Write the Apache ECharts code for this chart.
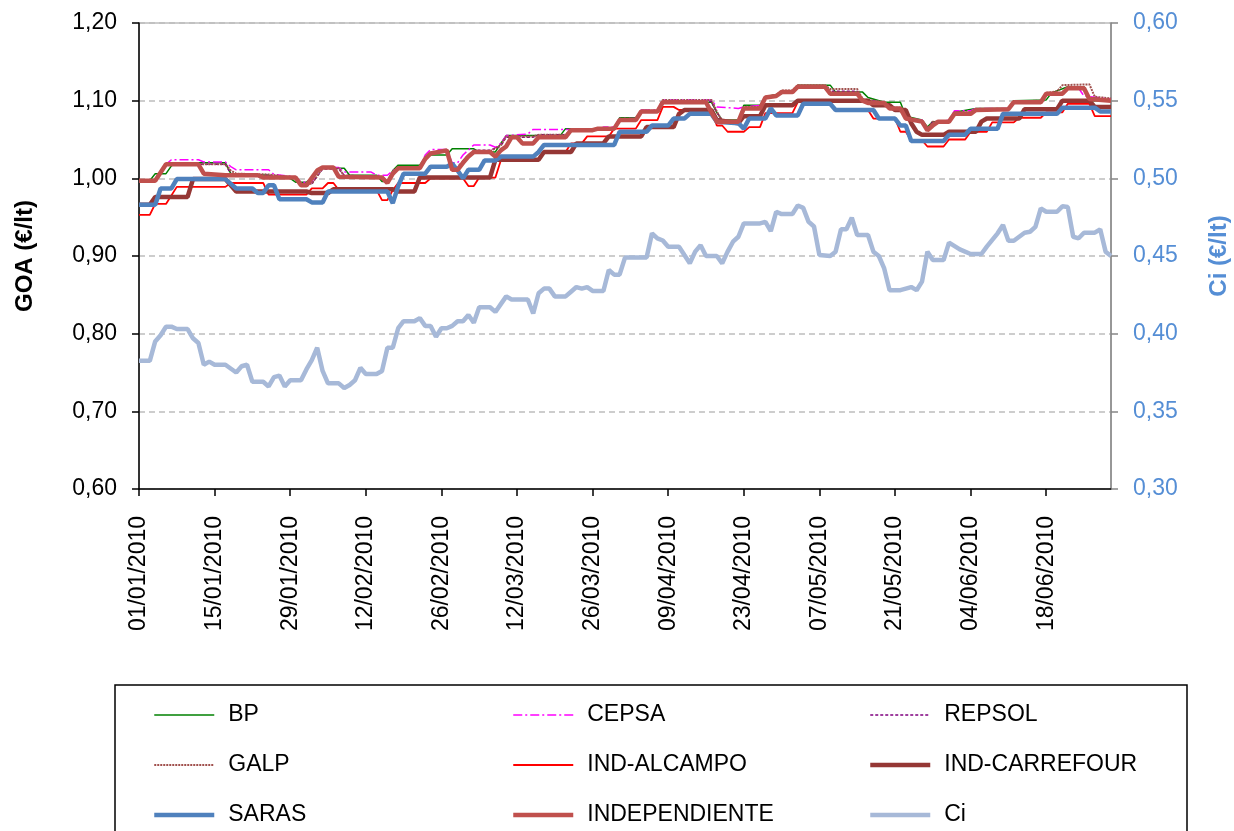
<!DOCTYPE html>
<html>
<head>
<meta charset="utf-8">
<script src="https://cdn.jsdelivr.net/npm/echarts@6/dist/echarts.min.js"></script>
<style>
  html, body { margin: 0; padding: 0; background: #fff; }
  #chart { width: 1234px; height: 831px; }
</style>
</head>
<body>
<div id="chart"></div>
<script>
// x = days since 01/01/2010, y = price in euro per litre
const xTickDays = [0, 14, 28, 42, 56, 70, 84, 98, 112, 126, 140, 154, 168];

const bp = [[0,0.997],[2,0.997],[3,1.006],[5,1.006],[6,1.016],[7,1.020],[16,1.020],[17,1.006],[24,1.004],[25,1.000],[28,1.000],[29,0.995],[31,0.995],[32,1.000],[33,1.008],[34,1.013],[38,1.013],[39,1.004],[44,1.004],[45,0.996],[46,0.996],[47,1.010],[48,1.017],[52,1.017],[53,1.027],[54,1.030],[57,1.030],[58,1.038],[62,1.038],[63,1.034],[66,1.034],[67,1.045],[68,1.055],[78,1.055],[79,1.064],[88,1.064],[89,1.078],[92,1.078],[93,1.087],[96,1.087],[97,1.098],[106,1.098],[107,1.085],[108,1.075],[111,1.075],[112,1.094],[115,1.094],[116,1.105],[121,1.112],[122,1.120],[128,1.120],[129,1.111],[134,1.111],[135,1.104],[138,1.098],[141,1.098],[142,1.080],[145,1.075],[146,1.066],[147,1.073],[150,1.073],[151,1.085],[155,1.090],[161,1.090],[162,1.100],[168,1.101],[169,1.110],[172,1.118],[175,1.118],[176,1.100],[180,1.100]];

const cepsa = [[0,0.997],[3,0.997],[5,1.018],[6,1.024],[11,1.024],[12,1.021],[16,1.021],[17,1.015],[18,1.011],[24,1.011],[25,1.005],[29,1.002],[30,0.995],[32,0.995],[33,1.010],[34,1.014],[37,1.014],[38,1.008],[43,1.008],[44,1.004],[46,1.004],[47,1.010],[48,1.014],[52,1.014],[53,1.030],[54,1.037],[57,1.037],[58,1.020],[59,1.020],[60,1.030],[62,1.043],[65,1.043],[66,1.040],[67,1.045],[68,1.055],[72,1.057],[73,1.063],[85,1.063],[86,1.066],[88,1.066],[89,1.077],[92,1.077],[93,1.088],[96,1.088],[97,1.101],[106,1.101],[107,1.092],[111,1.090],[112,1.092],[115,1.094],[116,1.104],[118,1.106],[119,1.112],[121,1.112],[122,1.118],[127,1.118],[128,1.110],[133,1.110],[134,1.101],[138,1.098],[139,1.090],[141,1.090],[142,1.077],[145,1.075],[146,1.062],[147,1.070],[150,1.075],[151,1.087],[154,1.087],[155,1.090],[161,1.090],[162,1.098],[167,1.100],[168,1.109],[171,1.109],[172,1.116],[174,1.116],[175,1.106],[180,1.102]];

const repsol = [[0,0.997],[3,0.997],[5,1.018],[16,1.018],[17,1.006],[24,1.004],[29,1.001],[30,0.993],[32,0.993],[34,1.012],[37,1.012],[38,1.004],[45,1.002],[46,0.996],[48,1.013],[52,1.013],[54,1.033],[57,1.035],[58,1.015],[59,1.015],[61,1.030],[62,1.036],[65,1.036],[67,1.042],[68,1.053],[73,1.053],[74,1.056],[79,1.056],[80,1.062],[88,1.064],[89,1.076],[92,1.076],[93,1.087],[96,1.087],[97,1.099],[106,1.099],[107,1.085],[108,1.074],[111,1.074],[112,1.091],[115,1.091],[116,1.104],[118,1.107],[119,1.112],[121,1.112],[122,1.119],[127,1.119],[128,1.112],[133,1.112],[134,1.101],[138,1.098],[139,1.090],[141,1.090],[142,1.078],[145,1.074],[146,1.063],[147,1.073],[150,1.073],[151,1.084],[154,1.084],[155,1.089],[161,1.089],[162,1.098],[167,1.099],[168,1.110],[171,1.110],[172,1.117],[175,1.117],[176,1.104],[180,1.101]];

const galp = [[0,0.997],[3,0.997],[5,1.018],[16,1.018],[17,1.010],[18,1.006],[24,1.005],[29,1.001],[30,0.993],[32,0.993],[34,1.013],[37,1.013],[38,1.003],[45,1.002],[46,0.995],[48,1.014],[52,1.014],[54,1.033],[57,1.036],[58,1.013],[59,1.013],[61,1.030],[62,1.035],[65,1.035],[67,1.042],[68,1.054],[73,1.054],[74,1.056],[79,1.056],[80,1.063],[88,1.064],[89,1.076],[92,1.076],[93,1.087],[96,1.087],[97,1.101],[106,1.101],[107,1.086],[108,1.074],[111,1.074],[112,1.092],[115,1.092],[116,1.105],[118,1.107],[119,1.113],[121,1.113],[122,1.120],[127,1.120],[128,1.115],[133,1.115],[134,1.102],[138,1.098],[139,1.091],[141,1.091],[142,1.078],[145,1.074],[146,1.063],[147,1.073],[150,1.073],[151,1.085],[154,1.085],[155,1.089],[161,1.089],[162,1.099],[167,1.100],[168,1.110],[170,1.112],[171,1.120],[176,1.121],[177,1.105],[180,1.103]];

const indAlcampo = [[0,0.953],[2,0.953],[3,0.967],[5,0.967],[7,0.989],[16,0.989],[17,0.994],[23,0.994],[24,0.979],[31,0.979],[32,0.987],[34,0.987],[35,0.994],[36,0.994],[37,0.985],[44,0.985],[45,0.972],[46,0.972],[47,0.985],[48,0.994],[53,0.994],[54,1.000],[60,1.000],[61,0.990],[62,0.990],[63,1.001],[66,1.001],[67,1.023],[74,1.023],[75,1.034],[79,1.034],[80,1.045],[82,1.045],[83,1.054],[87,1.054],[88,1.064],[92,1.064],[93,1.075],[96,1.075],[97,1.092],[99,1.092],[100,1.088],[106,1.088],[107,1.068],[108,1.068],[109,1.060],[112,1.060],[113,1.066],[115,1.066],[116,1.084],[121,1.084],[122,1.098],[128,1.098],[129,1.088],[135,1.088],[136,1.077],[140,1.077],[141,1.060],[142,1.060],[143,1.049],[145,1.049],[146,1.041],[149,1.041],[150,1.050],[153,1.050],[154,1.060],[157,1.060],[158,1.072],[162,1.072],[163,1.078],[167,1.078],[168,1.085],[171,1.085],[172,1.096],[176,1.096],[177,1.080],[180,1.080]];

const indCarrefour = [[0,0.966],[2,0.966],[3,0.976],[9,0.976],[10,0.999],[16,0.999],[18,0.983],[31,0.983],[32,0.981],[35,0.981],[36,0.986],[47,0.986],[48,0.983],[51,0.983],[52,1.001],[65,1.001],[66,1.024],[74,1.024],[75,1.034],[80,1.034],[81,1.045],[86,1.045],[87,1.054],[93,1.054],[94,1.066],[99,1.066],[100,1.083],[101,1.088],[106,1.088],[107,1.075],[111,1.071],[112,1.080],[115,1.080],[116,1.094],[121,1.094],[122,1.100],[135,1.100],[136,1.094],[139,1.094],[140,1.088],[142,1.088],[143,1.071],[144,1.060],[145,1.056],[149,1.056],[150,1.060],[155,1.060],[156,1.073],[157,1.077],[163,1.077],[164,1.089],[170,1.089],[171,1.100],[176,1.100],[177,1.092],[180,1.092]];

const saras = [[0,0.966],[3,0.966],[4,0.987],[6,0.987],[7,0.999],[16,0.999],[18,0.987],[21,0.987],[22,0.981],[23,0.981],[24,0.991],[25,0.991],[26,0.973],[31,0.973],[32,0.969],[34,0.969],[35,0.983],[46,0.983],[47,0.968],[48,0.990],[49,1.006],[53,1.006],[54,1.015],[57,1.015],[58,1.019],[59,1.010],[60,1.000],[61,1.011],[63,1.011],[64,1.023],[66,1.023],[67,1.028],[73,1.028],[74,1.034],[75,1.043],[88,1.043],[89,1.060],[94,1.060],[95,1.068],[98,1.068],[99,1.077],[101,1.077],[102,1.083],[106,1.083],[107,1.073],[111,1.071],[112,1.064],[113,1.077],[116,1.077],[117,1.090],[118,1.081],[122,1.081],[123,1.096],[128,1.096],[129,1.088],[136,1.088],[137,1.077],[140,1.077],[141,1.068],[142,1.068],[143,1.048],[149,1.048],[150,1.056],[153,1.056],[154,1.064],[159,1.064],[160,1.083],[170,1.083],[171,1.091],[177,1.091],[178,1.086],[180,1.086]];

const independiente = [[0,0.997],[3,0.997],[5,1.018],[11,1.018],[12,1.006],[16,1.004],[22,1.004],[23,1.001],[29,1.001],[30,0.991],[31,0.991],[33,1.010],[34,1.014],[36,1.014],[37,1.002],[45,1.001],[46,0.994],[47,1.006],[48,1.013],[52,1.013],[53,1.025],[54,1.032],[57,1.036],[58,1.011],[59,1.011],[60,1.020],[61,1.028],[62,1.034],[65,1.034],[66,1.028],[67,1.036],[68,1.041],[69,1.053],[70,1.053],[71,1.045],[73,1.045],[74,1.053],[79,1.053],[80,1.062],[84,1.062],[85,1.064],[88,1.064],[89,1.075],[92,1.075],[93,1.086],[96,1.086],[97,1.098],[105,1.098],[106,1.085],[107,1.073],[111,1.073],[112,1.090],[115,1.090],[116,1.104],[118,1.106],[119,1.111],[121,1.111],[122,1.118],[127,1.118],[128,1.109],[133,1.109],[134,1.100],[135,1.097],[138,1.097],[139,1.090],[141,1.090],[142,1.077],[145,1.073],[146,1.062],[147,1.068],[148,1.073],[150,1.073],[151,1.083],[154,1.083],[155,1.088],[161,1.089],[162,1.098],[167,1.098],[168,1.109],[171,1.109],[172,1.116],[175,1.116],[176,1.102],[180,1.100]];

const ci = [[0,0.3825],[2,0.3825],[3,0.395],[4,0.399],[5,0.4045],[6,0.4045],[7,0.403],[9,0.403],[10,0.397],[11,0.394],[12,0.380],[13,0.382],[14,0.380],[16,0.380],[18,0.375],[19,0.379],[20,0.380],[21,0.369],[23,0.369],[24,0.366],[25,0.372],[26,0.373],[27,0.366],[28,0.370],[30,0.370],[31,0.377],[32,0.383],[33,0.391],[34,0.376],[35,0.368],[37,0.368],[38,0.365],[39,0.367],[40,0.370],[41,0.378],[42,0.374],[44,0.374],[45,0.376],[46,0.391],[47,0.391],[48,0.4035],[49,0.408],[51,0.408],[52,0.410],[53,0.405],[54,0.405],[55,0.398],[56,0.4035],[57,0.4035],[58,0.405],[59,0.408],[60,0.408],[61,0.412],[62,0.407],[63,0.417],[65,0.417],[66,0.414],[67,0.419],[68,0.424],[69,0.422],[72,0.422],[73,0.413],[74,0.426],[75,0.429],[76,0.429],[77,0.424],[79,0.424],[80,0.427],[81,0.430],[82,0.429],[83,0.430],[84,0.4275],[86,0.4275],[87,0.441],[88,0.438],[89,0.438],[90,0.449],[94,0.449],[95,0.4646],[96,0.4614],[97,0.460],[98,0.456],[100,0.456],[101,0.4506],[102,0.4453],[103,0.4528],[104,0.457],[105,0.450],[107,0.450],[108,0.4453],[109,0.4528],[110,0.4592],[111,0.4624],[112,0.471],[115,0.471],[116,0.472],[117,0.466],[118,0.4785],[119,0.477],[121,0.477],[122,0.4825],[123,0.481],[124,0.472],[125,0.469],[126,0.4506],[128,0.450],[129,0.4528],[130,0.4672],[131,0.4672],[132,0.4746],[133,0.4635],[135,0.4635],[136,0.4528],[137,0.450],[138,0.442],[139,0.428],[141,0.428],[143,0.430],[144,0.428],[145,0.4335],[146,0.4528],[147,0.4474],[149,0.4474],[150,0.4586],[152,0.4543],[154,0.4513],[156,0.4513],[157,0.456],[159,0.4646],[160,0.470],[161,0.4598],[162,0.4598],[164,0.465],[165,0.4656],[166,0.4688],[167,0.4807],[168,0.4785],[170,0.4785],[171,0.482],[172,0.4815],[173,0.4624],[174,0.4614],[175,0.465],[177,0.465],[178,0.4672],[179,0.4528],[180,0.450]];

const FONT = '"Liberation Sans", Arial, sans-serif';

function dayLabel(d) {
  let t = new Date(Date.UTC(2010, 0, 1) + d * 86400000);
  let dd = String(t.getUTCDate()).padStart(2, '0');
  let mm = String(t.getUTCMonth() + 1).padStart(2, '0');
  return dd + '/' + mm + '/' + t.getUTCFullYear();
}
function comma(v) {
  return v.toFixed(2).replace('.', ',');
}
function line(name, data, color, width, type, yIndex) {
  return {
    name: name,
    type: 'line',
    data: data,
    yAxisIndex: yIndex || 0,
    symbol: 'none',
    showSymbol: false,
    lineStyle: { color: color, width: width, type: type || 'solid' },
    itemStyle: { color: color },
    emphasis: { disabled: true }
  };
}

let myChart = echarts.init(document.getElementById('chart'));
let legendBase = {
  orient: 'vertical',
  top: 697,
  height: 200,
  itemWidth: 60,
  itemHeight: 26,
  itemGap: 24,
  selectedMode: false,
  itemStyle: { opacity: 0 },
  lineStyle: { width: 'inherit' },
  textStyle: { fontFamily: FONT, fontSize: 23, color: '#000', padding: [0, 0, 0, 9], lineHeight: 26 }
};
let option = {
  animation: false,
  backgroundColor: '#fff',
  textStyle: { fontFamily: FONT },
  grid: {
    left: 139, right: 123, top: 23, bottom: 342,
    outerBoundsMode: 'none',
    containLabel: false,
    show: true, borderColor: '#9a9a9a', borderWidth: 1
  },
  legend: [
    Object.assign({ left: 147, data: ['BP', 'GALP', 'SARAS'] }, legendBase),
    Object.assign({ left: 506, data: ['CEPSA', 'IND-ALCAMPO', 'INDEPENDIENTE'] }, legendBase),
    Object.assign({ left: 863, data: ['REPSOL', 'IND-CARREFOUR', 'Ci'] }, legendBase)
  ],
  graphic: [{
    type: 'rect',
    shape: { x: 115, y: 685, width: 1072, height: 170 },
    style: { fill: 'none', stroke: '#000', lineWidth: 1.5 },
    silent: true
  }],
  xAxis: {
    type: 'value',
    min: 0,
    max: 180,
    axisLine: { show: true, lineStyle: { color: '#000', width: 1.5 } },
    axisTick: { show: true, inside: false, length: 7, customValues: xTickDays, lineStyle: { color: '#000', width: 1.5 } },
    axisLabel: {
      customValues: xTickDays,
      rotate: 90,
      margin: 27,
      fontSize: 23,
      color: '#000',
      fontFamily: FONT,
      formatter: function (v) { return dayLabel(v); }
    },
    splitLine: { show: false }
  },
  yAxis: [
    {
      type: 'value',
      min: 0.6,
      max: 1.2,
      interval: 0.1,
      position: 'left',
      name: 'GOA (€/lt)',
      nameLocation: 'middle',
      nameRotate: 90,
      nameGap: 102,
      nameTextStyle: { fontFamily: FONT, fontSize: 24, fontWeight: 'bold', color: '#000' },
      axisLine: { show: true, lineStyle: { color: '#000', width: 1.5 } },
      axisTick: { show: true, inside: false, length: 7, lineStyle: { color: '#000', width: 1.5 } },
      axisLabel: { margin: 22, fontSize: 23, color: '#000', fontFamily: FONT, formatter: comma },
      splitLine: { show: true, lineStyle: { color: '#bdbdbd', width: 1.5, type: [6, 4] } }
    },
    {
      type: 'value',
      min: 0.3,
      max: 0.6,
      interval: 0.05,
      position: 'right',
      name: 'Ci (€/lt)',
      nameLocation: 'middle',
      nameRotate: 90,
      nameGap: 96,
      nameTextStyle: { fontFamily: FONT, fontSize: 24, fontWeight: 'bold', color: '#558ED5' },
      axisLine: { show: true, lineStyle: { color: '#868686', width: 1.5 } },
      axisTick: { show: true, inside: false, length: 7, lineStyle: { color: '#868686', width: 1.5 } },
      axisLabel: { margin: 22, fontSize: 23, color: '#558ED5', fontFamily: FONT, formatter: comma },
      splitLine: { show: false }
    }
  ],
  series: [
    line('BP', bp, '#008000', 1.5),
    line('CEPSA', cepsa, '#FF00FF', 1.5, [9, 3, 2, 3]),
    line('REPSOL', repsol, '#800080', 1.5, [3, 2]),
    line('GALP', galp, '#A0504D', 2, [2, 1]),
    line('IND-ALCAMPO', indAlcampo, '#FF0000', 1.8),
    line('IND-CARREFOUR', indCarrefour, '#953735', 4.5),
    line('SARAS', saras, '#4F81BD', 4.5),
    line('INDEPENDIENTE', independiente, '#C0504D', 4.5),
    line('Ci', ci, '#A7B9D8', 4.5, 'solid', 1)
  ]
};
myChart.setOption(option, true);

window.addEventListener('resize', () => {
  myChart.resize();
});
</script>
</body>
</html>
